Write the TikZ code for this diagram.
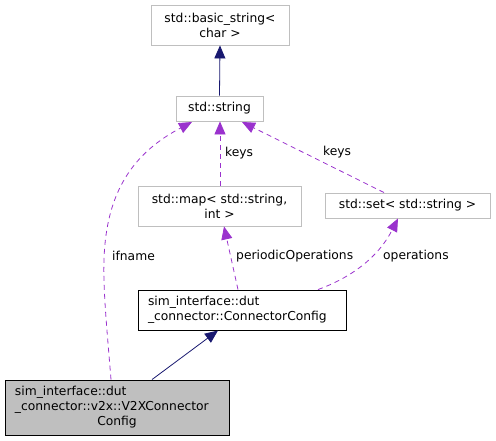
\documentclass[tikz,border=0pt]{standalone}
\usepackage{fontspec}
\setmainfont{DejaVu Sans}
\usetikzlibrary{arrows.meta}
\definecolor{edgeblue}{HTML}{191970}
\definecolor{edgepurple}{HTML}{9A32CD}
\definecolor{boxgrey}{HTML}{BFBFBF}
\begin{document}
\begin{tikzpicture}[x=1pt,y=-1pt,
  every node/.style={font=\fontsize{12.3}{15}\selectfont},
  cls/.style={draw=boxgrey, line width=0.9pt, fill=white, inner sep=0pt, align=center},
  clsdoc/.style={draw=black, line width=0.9pt, inner sep=0pt},
  inherit/.style={draw=edgeblue, line width=0.8pt, -{Triangle[length=13pt,width=11pt]}},
  usage/.style={draw=edgepurple, line width=0.8pt, dash pattern=on 5pt off 4pt, -{Triangle[length=13pt,width=11pt]}},
  lbl/.style={inner sep=0pt, anchor=west}]
\useasboundingbox (0,0) rectangle (496,441);
\node[cls, minimum width=138, minimum height=40] (bs) at (220,25) {std::basic\_string<\\char >};
\node[cls, minimum width=87, minimum height=25] (str) at (219.5,108.5) {std::string};
\node[cls, minimum width=163, minimum height=40] (map) at (219.5,206) {std::map< std::string,\\int >};
\node[cls, minimum width=165, minimum height=25] (set) at (407.5,205.5) {std::set< std::string >};
\node[clsdoc, fill=white, text width=188, inner xsep=10, minimum height=40, align=left] (cc) at (242,310) {sim\_interface::dut\\\_connector::ConnectorConfig};
\node[clsdoc, fill=boxgrey, text width=204, inner xsep=10, minimum height=55, align=left] (v2x) at (117,407.5) {sim\_interface::dut\\\_connector::v2x::V2XConnector\\\makebox[204pt][c]{Config}};
\coordinate (strL) at (192,122);
\coordinate (strR) at (242,122);
\draw[inherit] (str.north) -- (bs.south);
\draw[inherit] (v2x.north -| 152,0) -- (218,330.5);
\draw[usage] (v2x.north -| 111,0) .. controls (107,330) and (103,290) .. (104,260) .. controls (106,190) and (135,152) .. (strL);
\draw[usage] (map.north -| 220,0) -- (str.south -| 220,0);
\draw[usage] (set.north -| 384,0) -- (strR);
\draw[usage] (cc.north -| 238,0) -- (map.south -| 224,0);
\draw[usage] (cc.north -| 318,0) .. controls (350,278) and (378,258) .. (set.south -| 398,0);
\node[lbl] (lk1) at (225,153) {keys};
\node[lbl] (lk2) at (323,152) {keys};
\node[lbl] (lif) at (112,256) {ifname};
\node[lbl] (lpo) at (236,256) {periodicOperations};
\node[lbl] (lop) at (383,256) {operations};
\end{tikzpicture}
\end{document}
